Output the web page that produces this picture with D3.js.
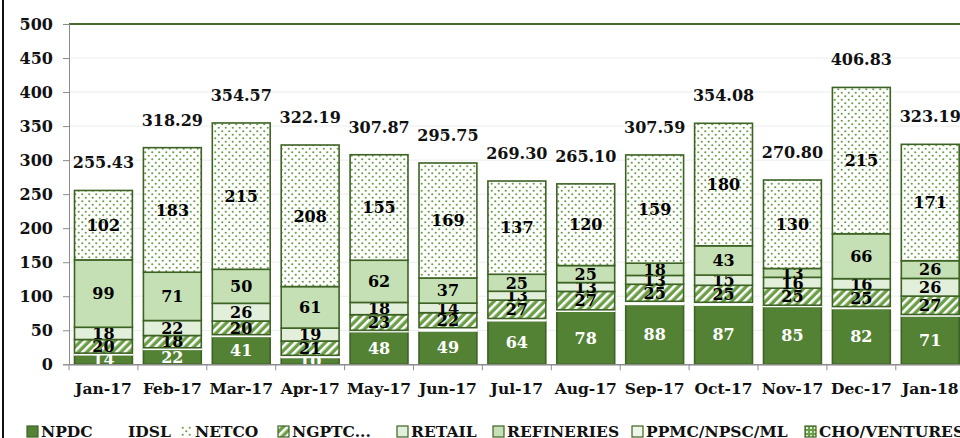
<!DOCTYPE html>
<meta charset="utf-8">
<script src="https://d3js.org/d3.v7.min.js"></script>
<style>
  body { margin: 0; background: #fff; }
  text { font-family: "DejaVu Serif", serif; font-weight: bold; }
</style>
<svg id="chart" width="960" height="438"></svg>
<script>
// months on the x axis
var months = ["Jan-17", "Feb-17", "Mar-17", "Apr-17", "May-17", "Jun-17", "Jul-17",
              "Aug-17", "Sep-17", "Oct-17", "Nov-17", "Dec-17", "Jan-18"];

// series values
var npdc       = [14, 22, 41, 10, 48, 49, 64, 78, 88, 87, 85, 82, 71];
var idsl       = [2.4, 2.3, 2.6, 3.2, 1.9, 4.8, 3.3, 2.1, 4.6, 4.1, 1.8, 2.8, 2.2];
var ngptc      = [20, 18, 20, 21, 23, 22, 27, 27, 25, 25, 25, 25, 27];
var retail     = [18, 22, 26, 19, 18, 14, 13, 13, 13, 15, 16, 16, 26];
var refineries = [99, 71, 50, 61, 62, 37, 25, 25, 18, 43, 13, 66, 26];
var ppmc       = [0, 0, 0, 0, 0, 0, 0, 0, 0, 0, 0, 0, 0];
var cho        = [0, 0, 0, 0, 0, 0, 0, 0, 0, 0, 0, 0, 0];
var netco      = [102, 183, 215, 208, 155, 169, 137, 120, 159, 180, 130, 215, 171];
var totals     = [255.43, 318.29, 354.57, 322.19, 307.87, 295.75, 269.30,
                  265.10, 307.59, 354.08, 270.80, 406.83, 323.19];

var yTicks = [0, 50, 100, 150, 200, 250, 300, 350, 400, 450, 500];

var legendNames = ["NPDC", "IDSL", "NETCO", "NGPTC...", "RETAIL", "REFINERIES", "PPMC/NPSC/ML", "CHO/VENTURES"];

var svg = d3.select("#chart");
var dark = "#3d6324";

// patterns
var defs = svg.append("defs");
var dots = defs.append("pattern").attr("id", "dots")
    .attr("width", 7).attr("height", 7).attr("patternUnits", "userSpaceOnUse");
dots.append("rect").attr("width", 7).attr("height", 7).attr("fill", "#fff");
dots.append("circle").attr("cx", 1.75).attr("cy", 1.75).attr("r", 1.1).attr("fill", "#6b9e4a");
dots.append("circle").attr("cx", 5.25).attr("cy", 5.25).attr("r", 1.1).attr("fill", "#6b9e4a");

var hatch = defs.append("pattern").attr("id", "hatch")
    .attr("width", 6).attr("height", 6).attr("patternUnits", "userSpaceOnUse")
    .attr("patternTransform", "rotate(45)");
hatch.append("rect").attr("width", 6).attr("height", 6).attr("fill", "#6b9e47");
hatch.append("rect").attr("width", 2.6).attr("height", 6).attr("fill", "#fff");

var choPat = defs.append("pattern").attr("id", "choPat")
    .attr("width", 4).attr("height", 4).attr("patternUnits", "userSpaceOnUse");
choPat.append("rect").attr("width", 4).attr("height", 4).attr("fill", "#6b9e47");
choPat.append("circle").attr("cx", 2).attr("cy", 2).attr("r", 1.1).attr("fill", "#fff");

// series setup (bottom to top)
var series = [
  {key: "NPDC", values: npdc, fill: "#548235", stroke: dark, label: "#fff"},
  {key: "IDSL", values: idsl, fill: "#fff", stroke: "#fff", label: null},
  {key: "NGPTC...", values: ngptc, fill: "url(#hatch)", stroke: dark, label: "#000"},
  {key: "RETAIL", values: retail, fill: "#e2efda", stroke: dark, label: "#000"},
  {key: "REFINERIES", values: refineries, fill: "#c5e0b4", stroke: dark, label: "#000"},
  {key: "PPMC/NPSC/ML", values: ppmc, fill: "#eef6e8", stroke: dark, label: null},
  {key: "CHO/VENTURES", values: cho, fill: "url(#choPat)", stroke: dark, label: null},
  {key: "NETCO", values: netco, fill: "url(#dots)", stroke: dark, label: "#000"}
];

var table = months.map(function(m, i) {
  var row = {month: m};
  series.forEach(function(s) { row[s.key] = s.values[i]; });
  return row;
});
var stacked = d3.stack().keys(series.map(function(s) { return s.key; }))(table);

var x = d3.scaleBand().domain(months).range([69, 964.7]).paddingInner(0.16).paddingOuter(0.08);
var y = d3.scaleLinear().domain([0, 500]).range([364.3, 24]);

// frame line on the left
svg.append("line").attr("x1", 3).attr("x2", 3).attr("y1", 0).attr("y2", 438)
  .attr("stroke", "#111").attr("stroke-width", 2);

// gridlines
svg.append("g").selectAll("line").data(yTicks.filter(function(t) { return t > 0 && t < 500; }))
  .enter().append("line")
    .attr("x1", 69).attr("x2", 960)
    .attr("y1", function(d) { return y(d); }).attr("y2", function(d) { return y(d); })
    .attr("stroke", "#ececec").attr("stroke-width", 1);
svg.append("line").attr("x1", 69).attr("x2", 960).attr("y1", y(500)).attr("y2", y(500))
  .attr("stroke", "#4b6b2e").attr("stroke-width", 2);

// y axis
var yAxis = svg.append("g").attr("transform", "translate(69,0)")
  .call(d3.axisLeft(y).tickValues(yTicks).tickSize(6).tickPadding(10));
yAxis.select(".domain").attr("stroke", "#8c8c8c");
yAxis.selectAll(".tick line").attr("stroke", "#8c8c8c");
yAxis.selectAll("text").attr("font-size", 16).attr("fill", "#111")
  .style("font-family", "DejaVu Serif").style("font-weight", "bold");

// bars
var layers = svg.append("g").selectAll("g").data(stacked).enter().append("g");
layers.selectAll("rect").data(function(d, i) { return d.map(function(p) { p.s = series[i]; return p; }); })
  .enter().append("rect")
    .attr("x", function(d) { return x(d.data.month); })
    .attr("width", x.bandwidth())
    .attr("y", function(d) { return y(d[1]); })
    .attr("height", function(d) { return y(d[0]) - y(d[1]); })
    .attr("fill", function(d) { return d.s.fill; })
    .attr("stroke", function(d) { return d.s.stroke; })
    .attr("stroke-width", function(d) { return d[1] - d[0] > 0 ? 1.6 : 0; });

// x axis
var xAxis = svg.append("g").attr("transform", "translate(0," + y(0) + ")")
  .call(d3.axisBottom(x).tickSize(0).tickPadding(19));
xAxis.select(".domain").attr("stroke", "#8c8c8c").attr("stroke-width", 1.5);
xAxis.selectAll("text").attr("font-size", 15.5).attr("fill", "#111")
  .style("font-family", "DejaVu Serif").style("font-weight", "bold");
var step = x.step();
svg.append("g").selectAll("line").data(months.concat(["end"]))
  .enter().append("line")
    .attr("x1", function(d, i) { return 69 + i * step; })
    .attr("x2", function(d, i) { return 69 + i * step; })
    .attr("y1", y(0)).attr("y2", y(0) + 6)
    .attr("stroke", "#8c8c8c");

// segment labels
layers.each(function(layer, i) {
  var s = series[i];
  if (!s.label) return;
  d3.select(this).selectAll("text").data(layer).enter().append("text")
    .attr("x", function(d) { return x(d.data.month) + x.bandwidth() / 2; })
    .attr("y", function(d) { return (y(d[0]) + y(d[1])) / 2; })
    .attr("dy", "0.36em")
    .attr("text-anchor", "middle")
    .attr("font-size", 16)
    .attr("fill", s.label)
    .text(function(d) { return Math.round(d[1] - d[0]); });
});

// totals
svg.append("g").selectAll("text").data(totals).enter().append("text")
  .attr("x", function(d, i) { return x(months[i]) + x.bandwidth() / 2; })
  .attr("y", function(d) { return y(d) - 22; })
  .attr("text-anchor", "middle")
  .attr("font-size", 16)
  .attr("fill", "#111")
  .text(function(d) { return d.toFixed(2); });

// legend
var legendFill = {
  "NPDC": "#548235", "IDSL": "#fff", "NETCO": "url(#dots)", "NGPTC...": "url(#hatch)",
  "RETAIL": "#e2efda", "REFINERIES": "#c5e0b4", "PPMC/NPSC/ML": "#eef6e8", "CHO/VENTURES": "url(#choPat)"
};
var legendX = [27, 114, 181, 278, 397, 493, 632, 805];
var legend = svg.append("g").selectAll("g").data(legendNames).enter().append("g")
  .attr("transform", function(d, i) { return "translate(" + legendX[i] + ",426)"; });
legend.append("rect")
  .attr("width", 11).attr("height", 11)
  .attr("fill", function(d) { return legendFill[d]; })
  .attr("stroke", function(d) { return d === "IDSL" || d === "NETCO" ? "none" : dark; })
  .attr("stroke-width", 1.2);
legend.append("text")
  .attr("x", 14).attr("y", 11)
  .attr("font-size", 15.5).attr("fill", "#111")
  .text(function(d) { return d; });
</script>
